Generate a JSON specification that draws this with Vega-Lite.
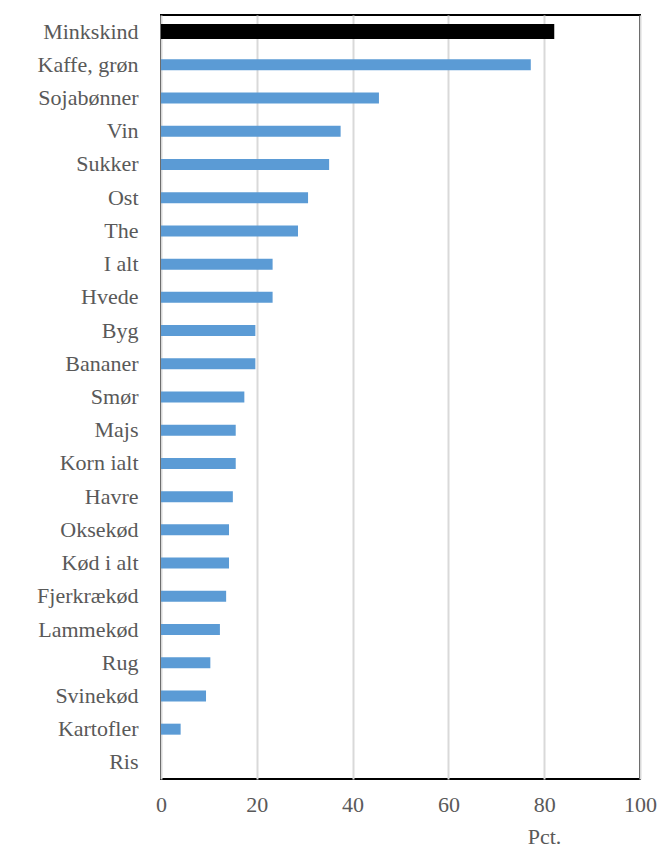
{
  "$schema": "https://vega.github.io/schema/vega-lite/v6.json",
  "width": 479,
  "height": 764,
  "autosize": {"type": "none"},
  "padding": {"left": 161, "top": 15, "right": 23, "bottom": 70},
  "background": "white",
  "config": {
    "view": {"stroke": "#000", "strokeWidth": 2},
    "font": "Liberation Serif"
  },
  "data": {
    "values": [
      {"k": "Minkskind", "v": 82.1},
      {"k": "Kaffe, grøn", "v": 77.2},
      {"k": "Sojabønner", "v": 45.5},
      {"k": "Vin", "v": 37.5},
      {"k": "Sukker", "v": 35.1},
      {"k": "Ost", "v": 30.7},
      {"k": "The", "v": 28.6},
      {"k": "I alt", "v": 23.3},
      {"k": "Hvede", "v": 23.3},
      {"k": "Byg", "v": 19.7},
      {"k": "Bananer", "v": 19.7},
      {"k": "Smør", "v": 17.4},
      {"k": "Majs", "v": 15.6},
      {"k": "Korn ialt", "v": 15.6},
      {"k": "Havre", "v": 15.0},
      {"k": "Oksekød", "v": 14.2},
      {"k": "Kød i alt", "v": 14.2},
      {"k": "Fjerkrækød", "v": 13.6},
      {"k": "Lammekød", "v": 12.3},
      {"k": "Rug", "v": 10.3},
      {"k": "Svinekød", "v": 9.4},
      {"k": "Kartofler", "v": 4.1},
      {"k": "Ris", "v": 0}
    ]
  },
  "mark": {"type": "bar"},
  "encoding": {
    "y": {
      "field": "k",
      "type": "nominal",
      "sort": null,
      "scale": {"paddingInner": 0, "paddingOuter": 0},
      "axis": {
        "title": null,
        "domain": false,
        "ticks": false,
        "labelPadding": 23,
        "labelFontSize": 22,
        "labelColor": "#595959",
        "labelFont": "Liberation Serif"
      }
    },
    "x": {
      "field": "v",
      "type": "quantitative",
      "scale": {"domain": [0, 100], "nice": false},
      "axis": {
        "values": [0, 20, 40, 60, 80, 100],
        "title": "Pct.",
        "titleFont": "Liberation Serif",
        "titleFontSize": 22,
        "titleFontWeight": "normal",
        "titleColor": "#595959",
        "titleX": 383,
        "titleY": 64,
        "titleAlign": "center",
        "titleBaseline": "alphabetic",
        "labelFontSize": 22,
        "labelColor": "#595959",
        "labelFont": "Liberation Serif",
        "labelPadding": 15,
        "labelBaseline": "top",
        "labelFlush": false,
        "labelOverlap": false,
        "ticks": false,
        "domain": false,
        "grid": true,
        "gridColor": "#d9d9d9",
        "gridWidth": 2
      }
    },
    "color": {
      "condition": {"test": "datum.k === 'Minkskind'", "value": "#000000"},
      "value": "#5B9BD5"
    },
    "size": {
      "condition": {"test": "datum.k === 'Minkskind'", "value": 15},
      "value": 11
    }
  }
}
